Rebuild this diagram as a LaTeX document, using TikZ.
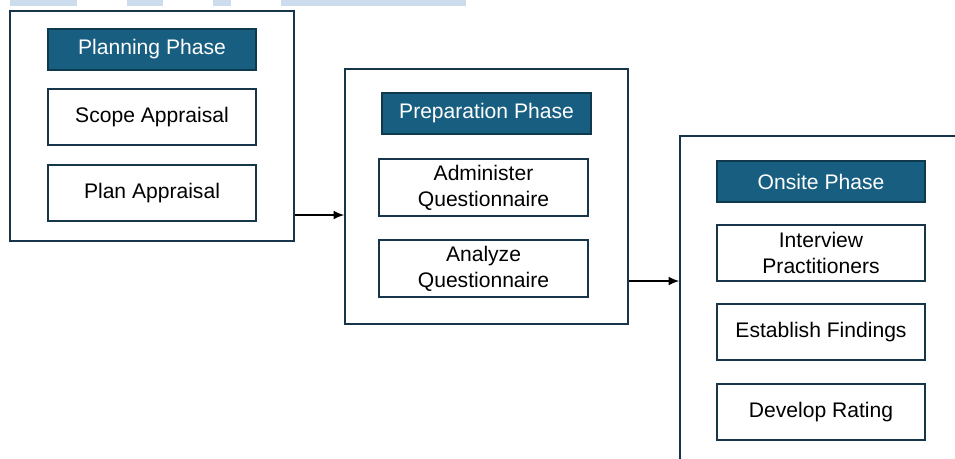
\documentclass[tikz,border=0pt]{standalone}
\usepackage{fontspec}
\setmainfont{Liberation Sans}
\usetikzlibrary{arrows.meta}
\definecolor{phaseblue}{HTML}{175E80}
\definecolor{phaseedge}{HTML}{0F3A4E}
\definecolor{boxedge}{HTML}{17364A}
\definecolor{barblue}{HTML}{CCDCEC}
\tikzset{
  phasebox/.style={draw=boxedge, line width=1.1pt, rectangle},
  header/.style={draw=phaseedge, fill=phaseblue, text=white, line width=1.1pt, rectangle,
    minimum width=4.16cm, minimum height=0.82cm, font=\fontsize{12}{14.7}\selectfont},
  stepbox/.style={draw=boxedge, line width=1.1pt, rectangle, align=center,
    minimum width=4.16cm, minimum height=1.12cm, font=\fontsize{12}{14.7}\selectfont}
}
\begin{document}
\begin{tikzpicture}[x=0.02cm, y=-0.02cm]
  \useasboundingbox (0,0) rectangle (955,458);
  \clip (0,0) rectangle (955,458);
  % bars at the top edge
  \fill[barblue] (10,0) rectangle (77,6);
  \fill[barblue] (127,0) rectangle (163,6);
  \fill[barblue] (213,0) rectangle (231,6);
  \fill[barblue] (281,0) rectangle (466,6);
  % planning
  \node[phasebox, minimum width=5.68cm, minimum height=4.6cm] (planningBox) at (152, 126) {};
  \node[header] (planningHead) at (152, 49.5) {Planning Phase};
  \node[stepbox] (scope) at (152, 117) {Scope Appraisal};
  \node[stepbox] (plan) at (152, 193) {Plan Appraisal};
  % preparation
  \node[phasebox, minimum width=5.66cm, minimum height=5.1cm] (preparationBox) at (486.5, 196.5) {};
  \node[header, minimum width=4.18cm] (preparationHead) at (486.5, 113.5) {Preparation Phase};
  \node[stepbox, minimum width=4.18cm, minimum height=1.1cm] (administer) at (483.5, 187.5) {Administer\\Questionnaire};
  \node[stepbox, minimum width=4.18cm, minimum height=1.1cm] (analyze) at (483.5, 268.5) {Analyze\\Questionnaire};
  % onsite
  \node[phasebox, minimum width=6.4cm, minimum height=7.28cm] (onsiteBox) at (840, 318) {};
  \node[header] (onsiteHead) at (821, 181.5) {Onsite Phase};
  \node[stepbox] (interview) at (821, 253) {Interview\\Practitioners};
  \node[stepbox] (establish) at (821, 332) {Establish Findings};
  \node[stepbox] (develop) at (821, 412) {Develop Rating};
  \draw[-{Latex[length=6pt,width=5pt]}, line width=0.6pt] (planningBox.east |- 0,215) -- (preparationBox.west |- 0,215);
  \draw[-{Latex[length=6pt,width=5pt]}, line width=0.6pt] (preparationBox.east |- 0,281) -- (onsiteBox.west |- 0,281);
\end{tikzpicture}
\end{document}
